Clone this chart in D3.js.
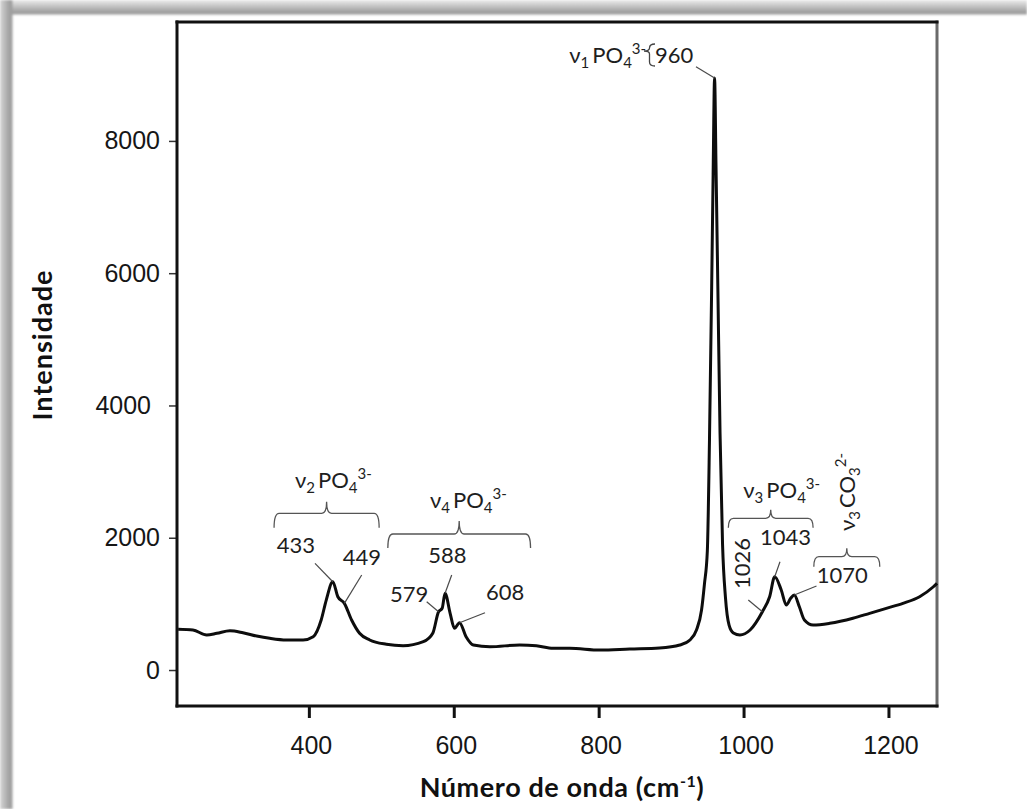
<!DOCTYPE html>
<html>
<head>
<meta charset="utf-8">
<script src="https://cdn.jsdelivr.net/npm/d3@7"></script>
<style>
  html, body { margin: 0; padding: 0; background: #fff; }
  svg { display: block; }
</style>
</head>
<body>
<script>
// Raman spectrum: wavenumber (cm-1) and intensity (counts)
const wavenumber = [
  219.6, 240, 259, 273, 291, 309, 328, 346, 369, 392, 406, 417, 424, 433, 440, 449,
  459, 470, 484, 507, 530, 558, 571, 579, 584, 588, 595, 601, 608, 617, 627, 650,
  691, 714, 737, 760, 802, 843, 884, 912, 926, 935, 942, 946, 950, 953, 956, 958,
  960, 962, 964.5, 967.5, 971, 975, 980, 986, 995, 1009, 1026, 1036, 1043, 1052,
  1059, 1065, 1070, 1077, 1084, 1096, 1119, 1151, 1174, 1197, 1220, 1243, 1262, 1267
];
const intensity = [
  615, 605, 529, 555, 594, 564, 514, 479, 454, 454, 503, 756, 1058, 1335, 1108, 1008,
  756, 555, 454, 389, 367, 428, 555, 881, 933, 1160, 857, 630, 715, 503, 378, 352,
  378, 367, 328, 328, 302, 318, 333, 378, 454, 605, 907, 1300, 1800, 3500, 5800, 7500,
  8950, 7600, 5800, 3600, 1900, 1100, 680, 560, 529, 605, 881, 1108, 1411, 1210,
  983, 1084, 1134, 957, 756, 680, 706, 782, 857, 933, 1008, 1108, 1259, 1311
];

// Axis ticks
const xTicks = [400, 600, 800, 1000, 1200];
const yTicks = [0, 2000, 4000, 6000, 8000];

// Assigned band positions (cm-1)
const peakWavenumbers = [433, 449, 579, 588, 608, 960, 1026, 1043, 1070];
const peakLabels = ["433", "449", "579", "588", "608", "960", "1026", "1043", "1070"];

// Vibrational mode groups: name parts and wavenumber span of each bracket
const groupNames = ["ν2 PO4 3-", "ν4 PO4 3-", "ν3 PO4 3-", "ν3 CO3 2-"];
const groupStart = [352, 509, 979, 1097];
const groupEnd = [497, 706, 1096, 1188];

// ---------------------------------------------------------------------------
const W = 1027, H = 809;
const plot = { left: 177, right: 937, top: 22, bottom: 706 };

const x = d3.scaleLinear().domain([218, 1267]).range([plot.left, plot.right]);
const y = d3.scaleLinear().domain([-544, 9798]).range([plot.bottom, plot.top]);

const svg = d3.select("body").append("svg")
  .attr("width", W).attr("height", H)
  .attr("viewBox", `0 0 ${W} ${H}`);

// page frame with soft top/left shading
const defs = svg.append("defs");
const gTop = defs.append("linearGradient").attr("id", "shadeTop")
  .attr("x1", 0).attr("y1", 0).attr("x2", 0).attr("y2", 1);
gTop.append("stop").attr("offset", "0%").attr("stop-color", "#ececec");
gTop.append("stop").attr("offset", "75%").attr("stop-color", "#a6a6a6");
gTop.append("stop").attr("offset", "100%").attr("stop-color", "#9a9a9a");
const gLeft = defs.append("linearGradient").attr("id", "shadeLeft")
  .attr("x1", 0).attr("y1", 0).attr("x2", 1).attr("y2", 0);
gLeft.append("stop").attr("offset", "0%").attr("stop-color", "#d6d6d6");
gLeft.append("stop").attr("offset", "70%").attr("stop-color", "#a4a4a4");
gLeft.append("stop").attr("offset", "100%").attr("stop-color", "#9c9c9c");
defs.append("filter").attr("id", "soft")
  .append("feGaussianBlur").attr("stdDeviation", 0.8);

svg.append("rect").attr("width", W).attr("height", H).attr("fill", "#fff");
const frame = svg.append("g").attr("filter", "url(#soft)");
frame.append("rect").attr("x", 0).attr("y", 0).attr("width", W).attr("height", 14.5)
  .attr("fill", "url(#shadeTop)");
frame.append("rect").attr("x", 0).attr("y", 0).attr("width", 12.5).attr("height", H)
  .attr("fill", "url(#shadeLeft)");

// axes
const tickFont = "'Liberation Sans', Arial, sans-serif";

const yAxis = svg.append("g")
  .attr("transform", `translate(${plot.left},0)`)
  .call(d3.axisLeft(y).tickValues(yTicks).tickSize(8).tickPadding(9).tickFormat(d3.format("d")));
yAxis.select(".domain").remove();
yAxis.selectAll(".tick line").attr("stroke", "#333").attr("stroke-width", 1.5);
yAxis.selectAll(".tick text")
  .attr("font-family", tickFont).attr("font-size", 25).attr("fill", "#161616")
  .attr("dx", d => d === 4000 ? -9 : 0);

const xAxis = svg.append("g")
  .attr("transform", `translate(0,${plot.bottom})`)
  .call(d3.axisBottom(x).tickValues(xTicks).tickSize(12).tickPadding(18).tickFormat(d3.format("d")));
xAxis.select(".domain").remove();
xAxis.selectAll(".tick line").attr("stroke", "#111").attr("stroke-width", 3);
xAxis.selectAll(".tick text")
  .attr("font-family", tickFont).attr("font-size", 25).attr("fill", "#161616")
  .attr("dx", 2);

// plot box
const box = svg.append("g").attr("fill", "none").attr("stroke-linecap", "square");
box.append("line").attr("x1", plot.right).attr("x2", plot.right)
  .attr("y1", plot.top).attr("y2", plot.bottom).attr("stroke", "#6a6a6a").attr("stroke-width", 3);
box.append("line").attr("x1", plot.left).attr("x2", plot.right)
  .attr("y1", plot.top).attr("y2", plot.top).attr("stroke", "#111").attr("stroke-width", 3);
box.append("line").attr("x1", plot.left).attr("x2", plot.left)
  .attr("y1", plot.top).attr("y2", plot.bottom).attr("stroke", "#111").attr("stroke-width", 3);
box.append("line").attr("x1", plot.left).attr("x2", plot.right)
  .attr("y1", plot.bottom).attr("y2", plot.bottom).attr("stroke", "#111").attr("stroke-width", 3);

// spectrum
const pts = wavenumber.map((w, i) => [w, intensity[i]]);
svg.append("path")
  .datum(pts)
  .attr("fill", "none")
  .attr("stroke", "#0d0d0d")
  .attr("stroke-width", 3)
  .attr("stroke-linejoin", "round")
  .attr("d", d3.line().x(d => x(d[0])).y(d => y(d[1])).curve(d3.curveMonotoneX));

// intensity on the trace at a given wavenumber
function valueAt(w) {
  const i = d3.bisectLeft(wavenumber, w);
  if (i <= 0) return intensity[0];
  if (i >= wavenumber.length) return intensity[intensity.length - 1];
  const w0 = wavenumber[i - 1], w1 = wavenumber[i];
  const t = (w - w0) / (w1 - w0);
  return intensity[i - 1] + t * (intensity[i] - intensity[i - 1]);
}

// annotations
const annFont = "Lato, 'Noto Sans', sans-serif";
const annColor = "#1e1e1e";
const ann = svg.append("g").attr("font-family", annFont).attr("fill", annColor);

// label placement: [text x, baseline y, leader start x, leader start y, rotate]
const peakLayout = [
  [276.7, 552.7, 315, 563.3, false],
  [342.7, 565, 361.7, 575, false],
  [390, 601.7, 426.7, 601.7, false],
  [428.3, 563.3, 451.7, 575, false],
  [486, 600, 485, 612.7, false],
  [655, 63.3, 696, 66.7, false],
  [750, 589, 748.3, 600, true],
  [760, 545, 780, 561.7, false],
  [816.7, 583.3, 816.5, 586, false]
];

peakWavenumbers.forEach((w, i) => {
  const [tx, ty, lx, ly, rot] = peakLayout[i];
  const t = ann.append("text").attr("font-size", 22).text(peakLabels[i]);
  if (rot) t.attr("transform", `translate(${tx},${ty}) rotate(-90)`);
  else t.attr("x", tx).attr("y", ty);
  ann.append("line")
    .attr("x1", lx).attr("y1", ly)
    .attr("x2", x(w)).attr("y2", y(valueAt(w)))
    .attr("stroke", "#4a4a4a").attr("stroke-width", 1.2);
});

// chemical group labels with sub/superscripts
function chemLabel(sel, str) {
  const [nu, ion, charge] = str.split(" ");
  sel.append("tspan").text(nu[0]);
  sel.append("tspan").attr("font-size", 15).attr("dy", 5).text(nu.slice(1));
  sel.append("tspan").attr("dx", 3).attr("dy", -5).text(ion.slice(0, -1));
  sel.append("tspan").attr("font-size", 15).attr("dy", 5).text(ion.slice(-1));
  sel.append("tspan").attr("font-size", 15).attr("dy", -14).text(charge);
}

// [text x, baseline y, rotate]
const groupLabelLayout = [
  [295, 488.3, false],
  [430, 508.3, false],
  [743.3, 498.3, false],
  [855, 531, true]
];
// bracket: [line y, end drop, centre tip]
const bracketLayout = [
  [513.3, 14.5, 11.5],
  [534, 14, 13],
  [518.3, 9.5, 8.5],
  [556.7, 10, 8.5]
];

groupNames.forEach((name, i) => {
  const [tx, ty, rot] = groupLabelLayout[i];
  const t = ann.append("text").attr("font-size", 22);
  if (rot) t.attr("transform", `translate(${tx},${ty}) rotate(-90)`);
  else t.attr("x", tx).attr("y", ty);
  chemLabel(t, name);

  const [by, drop, tip] = bracketLayout[i];
  const x1 = x(groupStart[i]), x2 = x(groupEnd[i]), xm = (x1 + x2) / 2, r = 5;
  const p = d3.path();
  p.moveTo(x1, by + drop);
  p.quadraticCurveTo(x1, by, x1 + r, by);
  p.lineTo(xm - r, by);
  p.quadraticCurveTo(xm, by, xm, by - tip);
  p.quadraticCurveTo(xm, by, xm + r, by);
  p.lineTo(x2 - r, by);
  p.quadraticCurveTo(x2, by, x2, by + drop);
  ann.append("path").attr("d", p.toString())
    .attr("fill", "none").attr("stroke", "#555").attr("stroke-width", 1.3);
});

// ν1 PO4 3- label with its vertical brace next to 960
const nu1 = ann.append("text").attr("font-size", 22).attr("x", 569.3).attr("y", 63.3);
chemLabel(nu1, "ν1 PO4 3-");
const bp = d3.path();
bp.moveTo(655, 44);
bp.quadraticCurveTo(649.5, 44, 649.5, 48);
bp.quadraticCurveTo(649.5, 51, 644, 51);
bp.quadraticCurveTo(649.5, 51, 649.5, 54);
bp.lineTo(649.5, 62);
bp.quadraticCurveTo(649.5, 66, 655, 66);
ann.append("path").attr("d", bp.toString())
  .attr("fill", "none").attr("stroke", "#444").attr("stroke-width", 1.3);

// axis titles
const titleFont = "Lato, 'Open Sans', sans-serif";
svg.append("text")
  .attr("transform", "translate(52,345) rotate(-90)")
  .attr("text-anchor", "middle")
  .attr("font-family", titleFont).attr("font-weight", "bold").attr("font-size", 27)
  .attr("letter-spacing", 1)
  .attr("fill", "#111")
  .text("Intensidade");

const xt = svg.append("text")
  .attr("x", 562).attr("y", 797)
  .attr("text-anchor", "middle")
  .attr("font-family", titleFont).attr("font-weight", "bold").attr("font-size", 27)
  .attr("letter-spacing", 0.6)
  .attr("fill", "#111");
xt.append("tspan").text("Número de onda (cm");
xt.append("tspan").attr("font-size", 16).attr("dy", -10).text("-1");
xt.append("tspan").attr("dy", 10).text(")");
</script>
</body>
</html>
